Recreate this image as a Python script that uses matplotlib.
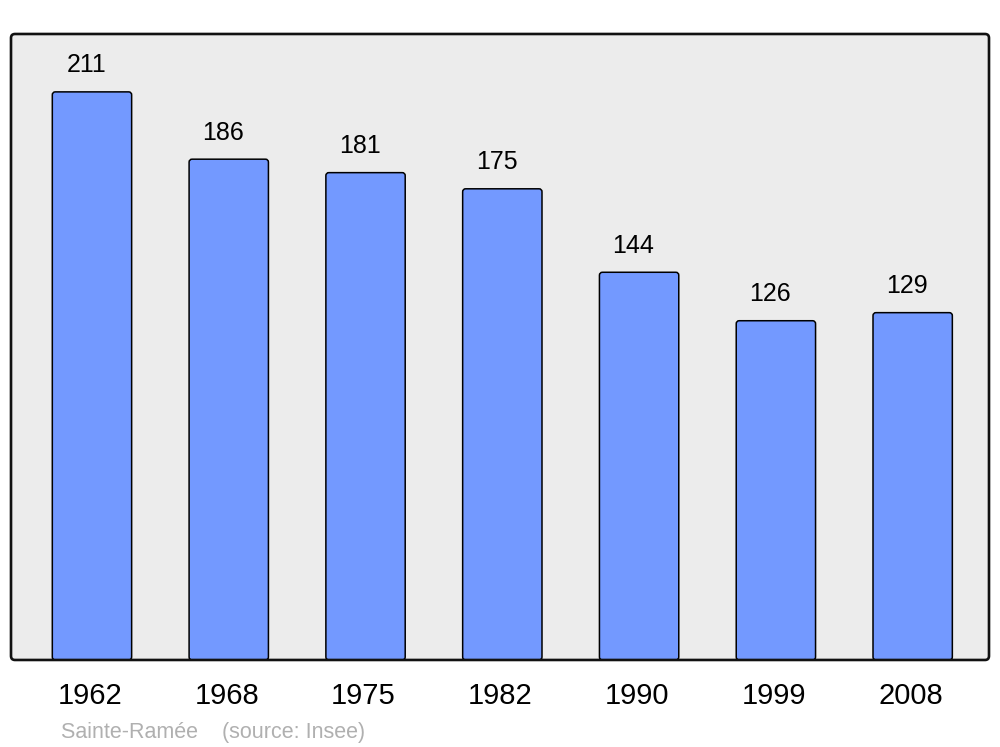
import matplotlib
matplotlib.use('Agg')
import matplotlib.pyplot as plt
from matplotlib.patches import FancyBboxPatch
from matplotlib.transforms import ScaledTranslation

plt.rcParams['font.family'] = ['Liberation Sans', 'DejaVu Sans']

years = ['1962', '1968', '1975', '1982', '1990', '1999', '2008']
population = [211, 186, 181, 175, 144, 126, 129]
place = 'Sainte-Ramée'
source = '(source: Insee)'

bar_color = '#7399ff'
bg_color = '#ececec'

fig = plt.figure(figsize=(10, 7.47), dpi=100)
ax = fig.add_axes([0.011, 0.1165, 0.978, 0.838])
ax.set_facecolor(bg_color)
for s in ax.spines.values():
    s.set_visible(False)

x = list(range(len(years)))
bars = ax.bar(x, population, width=0.58, color=bar_color, edgecolor='black',
              linewidth=1.1)

# swap plain rectangles for slightly rounded ones (data coords are very anisotropic)
px_x = 978 / 7.15
px_y = 626 / 232.5
for b in bars:
    bx, by, bw, bh = b.get_x(), b.get_y(), b.get_width(), b.get_height()
    b.set_visible(False)
    ax.add_patch(FancyBboxPatch((bx, by), bw, bh,
                                boxstyle=f'round,pad=0,rounding_size={3 / px_x}',
                                mutation_aspect=px_x / px_y,
                                facecolor=bar_color, edgecolor='black',
                                linewidth=1.1, zorder=2))

for xi, v in zip(x, population):
    ax.annotate(str(v), (xi, v), xytext=(-4, 19), textcoords='offset points',
                ha='center', va='center', fontsize=18)

ax.set_xlim(-0.592, 6.558)
ax.set_ylim(0, 232.5)
ax.set_yticks([])
ax.set_xticks(x, years, fontsize=21)
ax.tick_params(axis='x', length=0, pad=16)
shift = ScaledTranslation(-2 / 100, 0, fig.dpi_scale_trans)
for lab in ax.get_xticklabels():
    lab.set_transform(lab.get_transform() + shift)

# rounded frame
frame = FancyBboxPatch((0, 0), 1, 1, transform=ax.transAxes,
                       boxstyle=f'round,pad=0,rounding_size={4 / 978}',
                       mutation_aspect=978 / 626,
                       facecolor='none', edgecolor='#111111', linewidth=1.9,
                       clip_on=False, zorder=5)
ax.add_patch(frame)

fig.text(0.061, 0.0127, place + '    ' + source, color='#b0b0b0',
         fontsize=15.5, va='baseline', ha='left')

fig.savefig('out.png', dpi=100)
